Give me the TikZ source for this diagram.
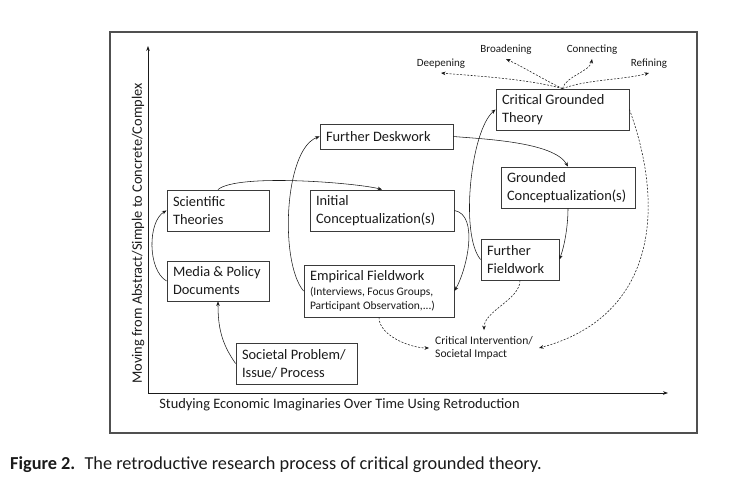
\documentclass[tikz,border=0pt]{standalone}
\usepackage{fontspec}
\setmainfont{Carlito}
\usepackage{xcolor}
\usetikzlibrary{arrows.meta,positioning}
\definecolor{ink}{HTML}{1A1A1A}
\definecolor{boxline}{HTML}{3A3A3A}
\definecolor{framegray}{HTML}{505050}
\tikzset{
  box/.style={draw=boxline,fill=white,line width=0.9pt,inner xsep=6pt,inner ysep=3pt,align=flush left,text=ink,font=\fontsize{14.4}{18}\selectfont},
  tag/.style={inner sep=4pt,text=ink,font=\fontsize{11}{13}\selectfont},
  axislabel/.style={inner sep=0pt,text=ink,font=\fontsize{14.4}{17}\selectfont},
  flow/.style={-{Stealth[length=4.5pt,width=3.6pt]},line width=0.55pt,draw=ink},
  softflow/.style={-{Stealth[length=4.5pt,width=3.6pt]},line width=0.55pt,draw=ink,dash pattern=on 2pt off 1.5pt},
  axis/.style={-{Stealth[length=5pt,width=3.6pt]},line width=0.7pt,draw=ink}
}

\begin{document}
\begin{tikzpicture}[x=1pt,y=1pt]
    \useasboundingbox (0,0) rectangle (732,479);
    \draw[framegray,line width=1.1pt] (110,46) rectangle (697,447);

    % axes
    \coordinate (origin) at (148,86);
    \coordinate (ytop) at (148,433);
    \coordinate (xend) at (668,86);
    \draw[axis] (origin) -- (ytop);
    \draw[axis] (origin) -- (xend);
    \node[axislabel,rotate=90] (ylabel) at (138,245.5) {Moving from Abstract/Simple to Concrete/Complex};
    \node[axislabel] (xlabel) at (339.5,74) {Studying Economic Imaginaries Over Time Using Retroduction};

    % boxes
    \node[box,text width=90pt,minimum height=41pt] (sci) at (218,268.5) {Scientific\\Theories};
    \node[box,text width=90pt,minimum height=40pt] (media) at (218,198) {Media \& Policy\\Documents};
    \node[box,text width=109pt,minimum height=41pt] (societal) at (296.5,115.5) {Societal Problem/\\Issue/ Process};
    \node[box,text width=121pt,minimum height=25pt] (deskwork) at (386.5,342.5) {Further Deskwork};
    \node[box,text width=132pt,minimum height=41pt] (initial) at (382,268.5) {Initial\\Conceptualization(s)};
    \node[box,text width=138pt,minimum height=52pt,font=\fontsize{14.4}{14.5}\selectfont] (empirical) at (379,188)
      {Empirical Fieldwork\\{\fontsize{11.5}{14.5}\selectfont (Interviews, Focus Groups,}\\{\fontsize{11.5}{14.5}\selectfont Participant Observation,...)}};
    \node[box,text width=121pt,minimum height=41pt] (cgt) at (562.5,369.5) {Critical Grounded\\Theory};
    \node[box,text width=122pt,minimum height=41pt] (grounded) at (568,291.5) {Grounded\\Conceptualization(s)};
    \node[box,text width=66pt,minimum height=41pt] (fieldwork) at (520,219.5) {Further\\Fieldwork};
    \node[tag,align=flush left,anchor=west,inner xsep=6pt,inner ysep=6pt,font=\fontsize{11.6}{13.5}\selectfont] (impact) at (429,131) {Critical Intervention/\\Societal Impact};

    % outcome labels
    \node[tag,anchor=south] (deepen) at (441,406) {Deepening};
    \node[tag,anchor=south] (broaden) at (506,420) {Broadening};
    \node[tag,anchor=south] (connect) at (592,420) {Connecting};
    \node[tag,anchor=south] (refine) at (649,406) {Refining};

    % solid connectors
    \draw[flow] (media.west) to[out=150,in=210,looseness=0.8] (sci.west);
    \draw[flow] (societal.west) to[out=125,in=-90] (media.south);
    \draw[flow] (sci.north) to[out=40,in=165,looseness=0.4] (initial.north);
    \draw[flow] (initial.east) to[out=-10,in=60,looseness=0.8] (empirical.east);
    \draw[flow] (empirical.west) to[out=130,in=200,looseness=0.62] (deskwork.west);
    \draw[flow] (deskwork.east) to[out=-5,in=120,looseness=0.62] (grounded.north);
    \draw[flow] (grounded.south) to[out=-90,in=70,looseness=0.8] (fieldwork.east);
    \draw[flow] (fieldwork.west) to[out=130,in=220,looseness=0.55] (cgt.west);

    % dashed connectors
    \draw[softflow] (cgt.north) to[out=165,in=-5,looseness=0.8] (deepen.south);
    \draw[softflow] (cgt.north) to[out=155,in=-25,looseness=0.8] (broaden.south);
    \draw[softflow] (cgt.north) to[out=75,in=-100,looseness=0.8] (connect.south);
    \draw[softflow] (cgt.north) to[out=20,in=195,looseness=0.8] (refine.south);
    \draw[softflow] (cgt.east) to[out=-70,in=15,looseness=1.15] (impact.east);
    \draw[softflow] (fieldwork.south) to[out=-90,in=90,looseness=0.8] (impact.north);
    \draw[softflow] (empirical.south) to[out=-90,in=180,looseness=0.8] (impact.west);

    \node[anchor=west,inner sep=0pt,text=ink,font=\fontsize{18.3}{21}\selectfont] (caption) at (10,14)
      {\textbf{Figure 2.}\hspace{0.5em}The retroductive research process of critical grounded theory.};
\end{tikzpicture}
\end{document}
